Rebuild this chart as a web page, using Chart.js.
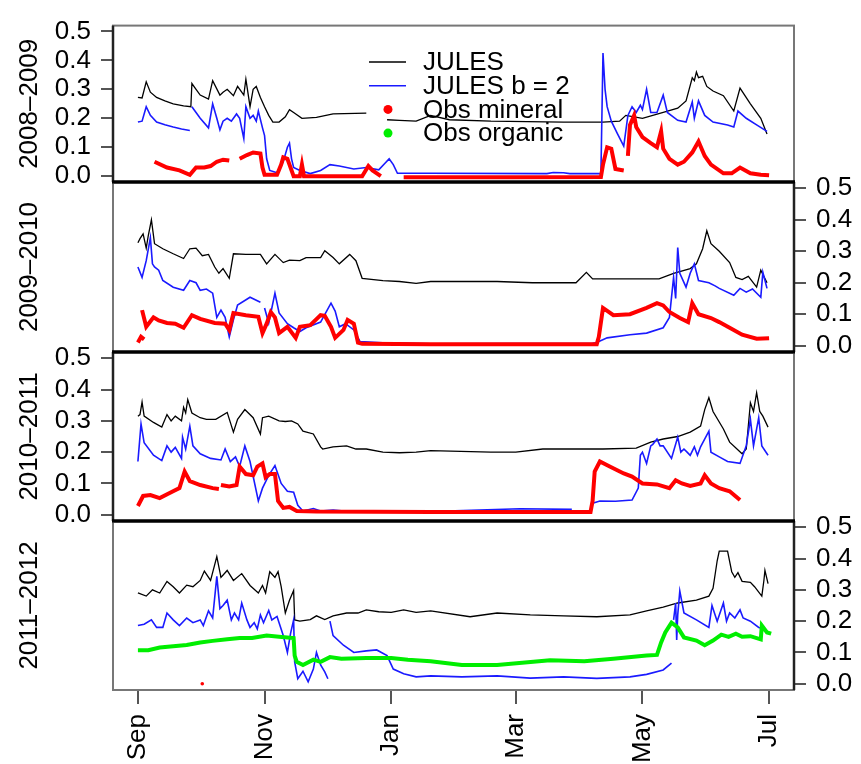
<!DOCTYPE html>
<html>
<head>
<meta charset="utf-8">
<script src="https://cdn.jsdelivr.net/npm/chart.js@4.4.0/dist/chart.umd.min.js"></script>
<style>
  html, body { margin: 0; padding: 0; background: #fff; }
  #wrap { position: relative; width: 861px; height: 764px; }
  #wrap canvas { position: absolute; left: 0; top: 0; }
</style>
</head>
<body>
<div id="wrap">
  <canvas id="p0" width="861" height="764"></canvas>
  <canvas id="p1" width="861" height="764"></canvas>
  <canvas id="p2" width="861" height="764"></canvas>
  <canvas id="p3" width="861" height="764"></canvas>
</div>
<script>
// axis labels
const months = ['Sep', 'Nov', 'Jan', 'Mar', 'May', 'Jul'];
const monthDays = [0, 61, 122, 182, 243, 304]; // days since 1 Sep
const yTicks = [0, 0.1, 0.2, 0.3, 0.4, 0.5];
const seasons = ['2008–2009', '2009–2010', '2010–2011', '2011–2012'];
const legendLabels = ['JULES', 'JULES b = 2', 'Obs mineral', 'Obs organic'];

// [day since 1 Sep, value] ; null = gap in record
const jules0809 = [[0,0.272],[2,0.27],[4,0.326],[6,0.29],[9,0.272],[13,0.26],[17,0.25],[22,0.243],[25.5,0.24],[26,0.32],[28,0.3],[30,0.28],[34,0.266],[36,0.33],[39.5,0.28],[41,0.29],[43,0.30],[46,0.278],[48,0.31],[50,0.29],[51,0.28],[52,0.335],[54,0.24],[55.5,0.30],[57,0.31],[59,0.272],[61,0.24],[63,0.21],[65,0.187],[68,0.187],[71,0.205],[73,0.23],[75,0.22],[79,0.2],[86,0.203],[94,0.215],[110,0.218],[111,null],[120,0.195],[126,0.193],[134,0.19],[141,0.21],[150,0.195],[170,0.19],[205,0.187],[224,0.187],[232,0.19],[235,0.21],[243,0.2],[253,0.22],[260,0.235],[264,0.26],[267,0.34],[268,0.33],[269,0.36],[270,0.34],[272,0.345],[274,0.31],[277,0.294],[282,0.278],[287,0.225],[290,0.304],[295,0.25],[300,0.2],[303,0.146]];
const julesB0809 = [[0,0.187],[2,0.19],[4,0.24],[6,0.21],[9,0.187],[13,0.178],[17,0.17],[21,0.163],[25,0.158],[25.5,null],[26,0.24],[28,0.22],[30,0.2],[34,0.167],[36,0.25],[38,0.2],[39.5,0.16],[41,0.19],[43,0.2],[45,0.19],[47.5,0.215],[49,0.2],[51,0.13],[52,0.24],[54,0.2],[55.5,0.21],[57,0.19],[58,0.225],[60,0.167],[61,0.14],[62,0.06],[63.5,0.02],[67,0.012],[70,0.05],[72,0.1],[73,0.114],[74,0.06],[75,0.03],[78,0.02],[83,0.009],[88,0.02],[92.5,0.04],[97,0.035],[104,0.025],[110,0.03],[116,0.022],[119,0.045],[121,0.06],[123,0.04],[125,0.01],[141,0.01],[197,0.009],[200,0.013],[205,0.012],[208,0.009],[223,0.009],[224,0.425],[225,0.3],[226,0.24],[228,0.19],[231,0.146],[234,0.104],[236,0.21],[238,0.24],[240,0.22],[242,0.245],[243,0.23],[245,0.3],[247,0.22],[250,0.22],[253,0.28],[255,0.22],[260,0.193],[264,0.187],[267,0.256],[268,0.2],[270,0.26],[273,0.21],[277,0.187],[284,0.177],[287,0.17],[289,0.225],[293,0.2],[298,0.177],[303,0.155]];
const mineral0809 = [[8,0.05],[14,0.03],[20,0.02],[25,0.005],[28,0.03],[32,0.03],[35,0.035],[38,0.05],[41,0.057],[44,0.054],[46,null],[49,0.06],[52.5,0.073],[55.5,0.082],[59,0.078],[60,0.03],[61,0.005],[67,0.005],[69,0.04],[70,0.065],[72,0.06],[73,0.04],[75,0.0],[78,0.0],[79,0.04],[80,0.0],[88,0.0],[108,0.0],[111,0.035],[113,0.02],[117,0.0],[120,null],[128,-0.004],[180,-0.004],[223,-0.003],[224,0.04],[226,0.1],[228,0.095],[230,0.025],[234,0.02],[235,null],[236,0.07],[237,0.177],[239,0.21],[240,0.17],[243,0.135],[247,0.114],[250,0.1],[252,0.155],[253,0.095],[256,0.06],[260,0.04],[263,0.05],[267,0.082],[270,0.12],[273,0.07],[276,0.04],[282,0.01],[286,0.01],[290,0.03],[295,0.01],[300,0.005],[304,0.003]];

const jules0910 = [[0,0.327],[1,0.34],[2.5,0.355],[4,0.31],[5,0.35],[6.5,0.40],[8,0.324],[12,0.308],[17,0.292],[22,0.277],[25,0.308],[28,0.31],[31,0.286],[34,0.29],[37,0.25],[39,0.23],[41,0.245],[44,0.214],[46,0.292],[52,0.29],[59,0.29],[62,0.26],[66,0.29],[70,0.264],[73,0.272],[78,0.27],[81,0.28],[88,0.28],[90,0.302],[94,0.28],[97,0.26],[102,0.29],[105,0.27],[108,0.214],[118,0.207],[126,0.204],[134,0.198],[141,0.204],[173,0.204],[190,0.2],[211,0.2],[216,0.233],[219,0.212],[251,0.212],[258,0.23],[266,0.245],[269,0.26],[272,0.308],[274,0.365],[276,0.324],[280,0.3],[285,0.264],[288,0.217],[291,0.21],[294,0.22],[298,0.186],[300,0.24],[303,0.2]];
const julesB0910 = [[0,0.25],[2,0.217],[4,0.27],[6,0.343],[7,0.26],[8,0.25],[10,0.24],[12,0.207],[17,0.186],[22,0.176],[25,0.207],[28,0.2],[30,0.176],[33,0.18],[36,0.167],[38,0.09],[40,0.113],[42,0.09],[44,0.028],[46,0.082],[48,0.129],[54,0.154],[59,0.138],[60,null],[61,0.12],[63,0.072],[66,0.167],[68,0.104],[72,0.07],[75,0.057],[78,0.045],[81,0.057],[88,0.075],[93,0.135],[95,0.11],[97,0.06],[100,0.07],[104,0.05],[107,0.013],[118,0.009],[141,0.006],[219,0.008],[221,0.01],[226,0.025],[237,0.035],[245,0.04],[253,0.057],[256,0.09],[258,0.217],[259,0.15],[260,0.312],[261,0.23],[264,0.186],[266,0.23],[268,0.26],[270,0.207],[275,0.2],[278,0.19],[280,0.182],[287,0.16],[290,0.182],[293,0.17],[296,0.18],[300,0.154],[301,0.233],[303,0.182]];
const mineral0910 = [[0,0.01],[1.5,0.028],[3,0.02],[3.5,null],[2,0.113],[4,0.06],[7.5,0.09],[10,0.08],[14,0.072],[18,0.07],[22,0.057],[26,0.097],[30,0.085],[37,0.072],[42,0.07],[44,0.05],[46,0.104],[52,0.097],[58,0.092],[60,0.04],[62,0.07],[64,0.107],[66,0.09],[68,0.04],[72,0.06],[76,0.025],[78,0.06],[83,0.065],[88,0.097],[90,0.095],[93,0.06],[95,0.025],[99,0.05],[101,0.082],[104,0.07],[106,0.01],[108,0.006],[141,0.005],[221,0.005],[222,0.028],[224,0.12],[229,0.097],[237,0.1],[245,0.12],[250,0.135],[253,0.128],[256,0.107],[261,0.088],[265,0.075],[267,0.135],[270,0.1],[276,0.088],[280,0.075],[285,0.057],[291,0.035],[298,0.022],[304,0.024]];

const jules1011 = [[0,0.315],[1,0.32],[2,0.36],[3,0.315],[7.5,0.295],[11.5,0.28],[14,0.32],[16,0.3],[18,0.315],[21,0.3],[22,0.343],[23,0.325],[24,0.368],[26,0.325],[30,0.31],[33,0.305],[37.5,0.305],[43,0.327],[46,0.264],[48,0.305],[51.5,0.336],[55.5,0.31],[59,0.258],[60,0.31],[63,0.315],[68,0.3],[71,0.298],[74,0.3],[77,0.29],[79.5,0.267],[84.5,0.258],[88,0.217],[89,0.21],[94,0.217],[100.5,0.22],[105,0.21],[110,0.21],[118,0.2],[126,0.198],[134,0.2],[141,0.205],[170,0.2],[182,0.2],[195,0.21],[205,0.21],[224,0.21],[240,0.213],[247,0.232],[253,0.242],[260,0.25],[266,0.264],[271,0.283],[273,0.336],[275,0.374],[277,0.33],[282,0.274],[285,0.232],[291,0.195],[293,0.21],[295,0.358],[296.5,0.33],[298,0.39],[299.5,0.33],[301,0.315],[303.5,0.28]];
const julesB1011 = [[0,0.17],[1.5,0.29],[3,0.23],[7.5,0.19],[11.5,0.173],[14,0.22],[16,0.2],[18,0.215],[21,0.18],[21.5,0.248],[23,0.21],[25,0.283],[26.5,0.22],[30,0.195],[35,0.18],[40,0.175],[42,0.21],[44.5,0.17],[47,0.185],[49,0.154],[51.5,0.22],[54,0.17],[58,0.044],[60,0.085],[63,0.126],[66,0.157],[69,0.1],[72,0.075],[75,0.072],[77,0.03],[79.5,0.012],[84.5,0.02],[88,0.012],[94,0.015],[102,0.01],[141,0.01],[184,0.019],[209,0.017],[210,null],[219,0.037],[222.5,0.044],[230,0.043],[238,0.047],[241,0.085],[242,0.19],[243,0.2],[245,0.164],[247,0.22],[248,0.225],[250,0.242],[251.5,0.22],[253,0.22],[257,0.18],[260,0.248],[261.5,0.2],[263,0.21],[264.5,0.2],[266,0.19],[268,0.217],[269.5,0.19],[271,0.217],[275,0.267],[276,0.2],[280,0.185],[284,0.17],[290,0.164],[293,0.22],[295,0.305],[296.5,0.22],[299,0.31],[300.5,0.22],[303.5,0.19]];
const mineral1011 = [[0,0.028],[2.5,0.06],[6,0.063],[10.5,0.053],[15.5,0.07],[20,0.085],[22.5,0.138],[25,0.107],[30,0.095],[36,0.085],[39,0.082],[39.5,null],[40,0.095],[44,0.09],[47.5,0.095],[49,0.154],[52,0.13],[55.5,0.126],[57.5,0.154],[60,0.164],[61.5,0.12],[63.5,0.13],[66,0.13],[67.5,0.044],[70,0.022],[73,0.025],[76.5,0.012],[86,0.01],[141,0.009],[218,0.009],[219,0.044],[220,0.138],[222.5,0.17],[227,0.155],[234,0.132],[238,0.122],[243,0.1],[250,0.097],[256,0.085],[259,0.11],[262,0.1],[266,0.092],[271,0.1],[273,0.126],[276,0.1],[280,0.085],[285,0.075],[290,0.047]];

const jules1112 = [[0,0.29],[4,0.28],[7,0.3],[10.5,0.29],[14,0.327],[17,0.31],[20,0.29],[23.5,0.315],[26.5,0.31],[30,0.33],[32,0.36],[35,0.33],[38,0.406],[40,0.34],[43,0.362],[46,0.33],[50,0.352],[54,0.314],[58,0.29],[60,0.314],[61.5,0.29],[63.5,0.358],[66,0.34],[67.5,0.358],[69,0.31],[71,0.226],[73,0.267],[75,0.298],[75.5,0.204],[78,0.2],[83,0.205],[86,0.217],[90,0.205],[94,0.217],[100.5,0.226],[106,0.226],[110,0.236],[116,0.23],[122,0.228],[128,0.236],[134,0.228],[141,0.233],[160,0.214],[173,0.226],[189,0.22],[205,0.217],[221,0.214],[237,0.22],[245,0.233],[253,0.245],[260,0.258],[269,0.267],[275,0.28],[277,0.305],[279,0.393],[280,0.424],[284,0.424],[286,0.358],[287.5,0.34],[289,0.355],[291,0.327],[295,0.324],[297,0.31],[300.5,0.28],[301.5,0.33],[302,0.362],[303.5,0.32]];
const julesB1112 = [[0,0.186],[3,0.19],[6.5,0.204],[9,0.18],[12,0.18],[14,0.226],[17,0.204],[20,0.186],[23.5,0.21],[26.5,0.195],[30,0.204],[31.5,0.186],[34,0.233],[36,0.21],[38,0.343],[39.5,0.24],[41,0.25],[43,0.267],[45,0.204],[46.5,0.226],[48.5,0.204],[50,0.258],[52.5,0.204],[54,0.18],[56,0.195],[57.5,0.175],[59,0.22],[60.5,0.195],[63,0.234],[64.5,0.204],[67,0.215],[70,0.154],[72,0.1],[73.5,0.16],[75,0.204],[75.5,0.07],[77,0.016],[79.5,0.04],[82,0.006],[84.5,0.047],[86,0.1],[88,0.06],[90,0.038],[91.5,0.016],[92,null],[92.5,0.2],[94,0.154],[99,0.123],[104,0.1],[110,0.105],[115,0.108],[120,0.09],[123,0.047],[128,0.032],[134,0.022],[141,0.025],[156,0.022],[173,0.025],[189,0.018],[205,0.022],[221,0.017],[237,0.022],[245,0.03],[253,0.044],[257,0.066],[257.5,null],[258,0.204],[259,0.258],[259.5,0.14],[260,0.22],[261,0.296],[263,0.226],[269,0.204],[275,0.18],[276.5,0.25],[279,0.2],[282,0.258],[283.5,0.2],[285,0.226],[287.5,0.21],[290,0.236],[291.5,0.21],[295,0.2],[299,0.18],[302,0.175]];
const organic1112 = [[0,0.107],[5,0.107],[10.5,0.116],[17,0.12],[23.5,0.124],[30,0.132],[36,0.137],[43,0.142],[49,0.146],[55,0.146],[62,0.154],[68,0.15],[75,0.146],[75.5,0.09],[76.5,0.07],[79.5,0.06],[84.5,0.077],[88,0.07],[92.5,0.085],[98,0.08],[110,0.082],[122,0.082],[130,0.077],[141,0.072],[156,0.06],[173,0.06],[198.5,0.075],[215,0.072],[229,0.08],[245,0.09],[250,0.092],[252,0.132],[254,0.164],[257,0.195],[260,0.18],[263,0.148],[269,0.138],[273,0.123],[277,0.138],[281,0.157],[284.5,0.15],[288,0.16],[291,0.15],[295,0.152],[300,0.142],[300.5,0.186],[303,0.164],[305,0.16]];
const mineral1112 = [[31,0.0]];

const W = 861, H = 764, LEFT = 113, RIGHT = 794;
const FONT = { family: "'Liberation Sans', Arial, Helvetica, sans-serif", size: 26 };
const colJules = '#000000', colJulesB = '#1a1aff', colMineral = '#ff0000', colOrganic = '#00ee00';

const panels = [
  { title: seasons[0], side: 'left',  top: 13,  bottom: 182, jules: jules0809, julesB: julesB0809, mineral: mineral0809 },
  { title: seasons[1], side: 'right', top: 182, bottom: 352, jules: jules0910, julesB: julesB0910, mineral: mineral0910 },
  { title: seasons[2], side: 'left',  top: 352, bottom: 521, jules: jules1011, julesB: julesB1011, mineral: mineral1011 },
  { title: seasons[3], side: 'right', top: 521, bottom: 690, jules: jules1112, julesB: julesB1112, mineral: mineral1112, organic: organic1112, xAxis: true }
];

function pts(arr) { return arr.map(p => ({ x: p[0], y: p[1] })); }

// box round each panel, darker line on the axis side, black line between panels
const framePlugin = {
  id: 'frame',
  afterDatasetsDraw(chart, args, opts) {
    const { ctx, chartArea: a } = chart;
    const hline = y => { ctx.beginPath(); ctx.moveTo(a.left - 1, y); ctx.lineTo(a.right + 1, y); ctx.stroke(); };
    ctx.save();
    ctx.strokeStyle = '#777';
    ctx.lineWidth = 2;
    ctx.strokeRect(a.left, a.top, a.right - a.left, a.bottom - a.top);
    ctx.strokeStyle = '#222';
    ctx.lineWidth = 2.5;
    const ax = opts.side === 'left' ? a.left : a.right;
    ctx.beginPath(); ctx.moveTo(ax, a.top); ctx.lineTo(ax, a.bottom); ctx.stroke();
    ctx.strokeStyle = '#000';
    ctx.lineWidth = 3;
    if (!opts.first) hline(a.top);
    if (!opts.last) hline(a.bottom);
    ctx.restore();
  }
};

const legendPlugin = {
  id: 'seriesLegend',
  afterDraw(chart, args, opts) {
    if (!opts.show) return;
    const ctx = chart.ctx;
    const cols = [colJules, colJulesB, colMineral, colOrganic];
    ctx.save();
    ctx.font = FONT.size + 'px ' + FONT.family;
    ctx.textBaseline = 'middle';
    legendLabels.forEach((t, i) => {
      const y = 62 + i * 23.7;
      if (i < 2) {
        ctx.strokeStyle = cols[i];
        ctx.lineWidth = 1.6;
        ctx.beginPath(); ctx.moveTo(369, y); ctx.lineTo(406, y); ctx.stroke();
      } else {
        ctx.fillStyle = cols[i];
        ctx.beginPath(); ctx.arc(388, y, 4.5, 0, Math.PI * 2); ctx.fill();
      }
      ctx.fillStyle = '#000';
      ctx.fillText(t, 423, y + 1);
    });
    ctx.restore();
  }
};

function valueAxis(side) {
  return {
    type: 'linear', position: side, min: -0.02, max: 0.52,
    afterBuildTicks: s => { s.ticks = yTicks.map(v => ({ value: v })); },
    afterFit: s => { s.width = side === 'left' ? LEFT : W - RIGHT; },
    ticks: { autoSkip: false, font: FONT, color: '#000', padding: 10, callback: v => v.toFixed(1) },
    grid: { drawOnChartArea: false, tickLength: 12, color: '#555', lineWidth: 2 },
    border: { display: false }
  };
}

function titleOpts(text) {
  return { display: true, text: text, font: FONT, color: '#000', padding: { top: 14, bottom: 0 } };
}

panels.forEach((p, k) => {
  const datasets = [];
  const line = (data, color, width) => ({
    data: pts(data), borderColor: color, backgroundColor: color, borderWidth: width,
    pointRadius: data.length === 1 ? 1.8 : 0, pointBorderWidth: 0,
    fill: false, spanGaps: false, tension: 0, yAxisID: 'y'
  });
  if (p.organic) datasets.push(line(p.organic, colOrganic, 4));
  datasets.push(line(p.mineral, colMineral, 4));
  datasets.push(line(p.julesB, colJulesB, 1.6));
  datasets.push(line(p.jules, colJules, 1.3));

  const scales = {
    x: {
      type: 'linear', min: -12, max: 316, display: !!p.xAxis, position: 'bottom',
      afterBuildTicks: s => { s.ticks = monthDays.map(v => ({ value: v })); },
      afterFit: s => { s.height = p.xAxis ? H - p.bottom : 0; },
      ticks: { autoSkip: false, minRotation: 90, maxRotation: 90, padding: 10, font: FONT, color: '#000',
               callback: (v, i) => months[i] },
      grid: { drawOnChartArea: false, tickLength: 14, color: '#555', lineWidth: 2 },
      border: { display: false }
    },
    y: valueAxis(p.side)
  };
  if (p.side === 'left') {
    scales.y.title = titleOpts(p.title);
  } else {
    scales.yt = {
      type: 'linear', position: 'left', min: 0, max: 1,
      afterFit: s => { s.width = LEFT; },
      ticks: { display: false },
      grid: { display: false },
      border: { display: false },
      title: titleOpts(p.title)
    };
  }

  new Chart(document.getElementById('p' + k), {
    type: 'line',
    data: { datasets: datasets },
    options: {
      responsive: false,
      animation: false,
      events: [],
      layout: {
        padding: {
          top: p.top,
          bottom: p.xAxis ? 0 : H - p.bottom,
          left: 0,
          right: p.side === 'left' ? W - RIGHT : 0
        }
      },
      plugins: {
        legend: { display: false },
        tooltip: { enabled: false },
        frame: { side: p.side, first: k === 0, last: !!p.xAxis },
        seriesLegend: { show: k === 0 }
      },
      scales: scales
    },
    plugins: [framePlugin, legendPlugin]
  });
});
</script>
</body>
</html>
